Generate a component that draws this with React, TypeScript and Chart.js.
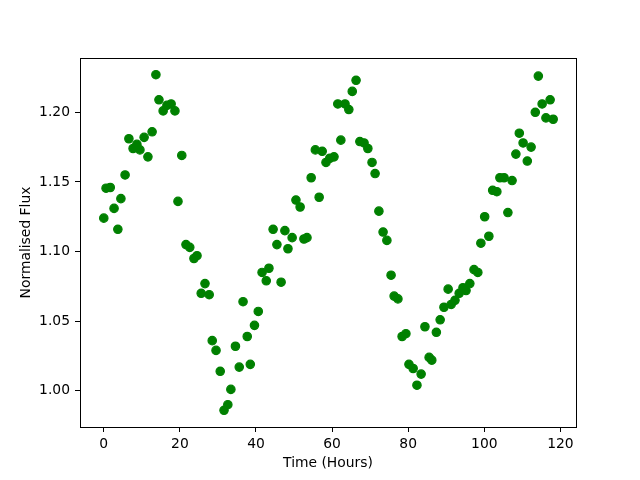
import React, { useEffect, useRef } from "react";
import { Chart, registerables } from "chart.js";

Chart.register(...registerables);

const timeHours: number[] = [
  0.0, 0.6, 1.7, 2.7, 3.7, 4.5, 5.6, 6.6, 7.7, 8.7,
  9.5, 10.6, 11.6, 12.7, 13.7, 14.5, 15.6, 16.6, 17.7, 18.7,
  19.5, 20.5, 21.6, 22.6, 23.7, 24.5, 25.6, 26.6, 27.7, 28.5,
  29.5, 30.6, 31.6, 32.6, 33.4, 34.6, 35.6, 36.6, 37.7, 38.5,
  39.6, 40.6, 41.6, 42.7, 43.4, 44.5, 45.5, 46.6, 47.6, 48.4,
  49.5, 50.5, 51.6, 52.6, 53.4, 54.5, 55.6, 56.6, 57.4, 58.4,
  59.4, 60.5, 61.5, 62.3, 63.4, 64.4, 65.3, 66.3, 67.3, 68.4,
  69.4, 70.5, 71.3, 72.3, 73.4, 74.4, 75.5, 76.3, 77.3, 78.4,
  79.4, 80.2, 81.3, 82.3, 83.4, 84.4, 85.5, 86.2, 87.4, 88.4,
  89.4, 90.5, 91.3, 92.3, 93.4, 94.4, 95.2, 96.2, 97.3, 98.3,
  99.1, 100.1, 101.2, 102.2, 103.3, 104.1, 105.2, 106.2, 107.3, 108.3,
  109.2, 110.2, 111.3, 112.3, 113.4, 114.2, 115.2, 116.2, 117.3, 118.1,
];

const normalisedFlux: number[] = [
  1.124, 1.1455, 1.146, 1.131, 1.116, 1.138, 1.155, 1.181, 1.174, 1.177,
  1.173, 1.182, 1.168, 1.186, 1.227, 1.209, 1.201, 1.205, 1.206, 1.201,
  1.136, 1.169, 1.105, 1.103, 1.095, 1.097, 1.070, 1.077, 1.069, 1.036,
  1.029, 1.014, 0.986, 0.990, 1.001, 1.032, 1.017, 1.064, 1.039, 1.019,
  1.047, 1.057, 1.085, 1.079, 1.088, 1.116, 1.105, 1.078, 1.115, 1.102,
  1.110, 1.137, 1.132, 1.109, 1.110, 1.153, 1.173, 1.139, 1.172, 1.164,
  1.167, 1.168, 1.206, 1.180, 1.206, 1.202, 1.215, 1.223, 1.179, 1.178,
  1.174, 1.164, 1.156, 1.129, 1.114, 1.108, 1.083, 1.068, 1.066, 1.039,
  1.041, 1.019, 1.016, 1.004, 1.012, 1.046, 1.024, 1.022, 1.042, 1.051,
  1.060, 1.073, 1.062, 1.065, 1.070, 1.074, 1.072, 1.077, 1.087, 1.085,
  1.106, 1.125, 1.111, 1.144, 1.143, 1.153, 1.153, 1.128, 1.151, 1.170,
  1.185, 1.178, 1.165, 1.175, 1.200, 1.226, 1.206, 1.196, 1.209, 1.195,
];

const xTickValues: number[] = [0, 20, 40, 60, 80, 100, 120];
const yTickValues: number[] = [1.0, 1.05, 1.1, 1.15, 1.2];

const FONT = { family: "'DejaVu Sans', sans-serif", size: 13.89 };

const frame = {
  id: "frame",
  afterDatasetsDraw(chart: any) {
    const { ctx, chartArea } = chart;
    ctx.save();
    ctx.strokeStyle = "#000";
    ctx.lineWidth = 1;
    ctx.strokeRect(
      Math.round(chartArea.left) + 0.5,
      Math.round(chartArea.top) + 0.5,
      Math.round(chartArea.right - chartArea.left),
      Math.round(chartArea.bottom - chartArea.top)
    );
    ctx.restore();
  },
};

export default function App() {
  const ref = useRef<HTMLCanvasElement>(null);
  useEffect(() => {
    if (!ref.current) return;
    const chart = new Chart(ref.current, {
      type: "scatter",
      data: {
        datasets: [
          {
            data: timeHours.map((t, i) => ({ x: t, y: normalisedFlux[i] })),
            backgroundColor: "#008000",
            borderColor: "#008000",
            pointRadius: 4.2,
            pointBorderWidth: 1.2,
            pointHoverRadius: 4.2,
          },
        ],
      },
      options: {
        responsive: false,
        animation: false,
        layout: { padding: { left: 0, top: 58, right: 64, bottom: 0 } },
        plugins: { legend: { display: false }, tooltip: { enabled: false } },
        scales: {
          x: {
            type: "linear",
            min: -6.25,
            max: 124.1,
            afterBuildTicks: (s: any) => {
              s.ticks = xTickValues.map((v) => ({ value: v }));
            },
            afterFit: (s: any) => {
              s.height = 53;
            },
            grid: { drawOnChartArea: false, drawTicks: true, tickLength: 5, color: "#000", lineWidth: 1 },
            border: { display: false },
            ticks: { font: FONT, color: "#000", padding: 4, maxRotation: 0, callback: (v: any) => String(v) },
            title: { display: true, text: "Time (Hours)", font: FONT, color: "#000", padding: { top: 0, bottom: 8 } },
          },
          y: {
            type: "linear",
            min: 0.974,
            max: 1.239,
            afterBuildTicks: (s: any) => {
              s.ticks = yTickValues.map((v) => ({ value: v }));
            },
            afterFit: (s: any) => {
              s.width = 80;
            },
            grid: { drawOnChartArea: false, drawTicks: true, tickLength: 5, color: "#000", lineWidth: 1 },
            border: { display: false },
            ticks: { font: FONT, color: "#000", padding: 5, callback: (v: any) => Number(v).toFixed(2) },
            title: { display: true, text: "Normalised Flux", font: FONT, color: "#000", padding: { top: 18, bottom: 0 } },
          },
        },
      },
      plugins: [frame],
    } as any);
    return () => chart.destroy();
  }, []);
  return (
    <div style={{ position: "fixed", left: 0, top: 0, width: 640, height: 480, background: "#fff" }}>
      <canvas ref={ref} width={640} height={480} />
    </div>
  );
}
